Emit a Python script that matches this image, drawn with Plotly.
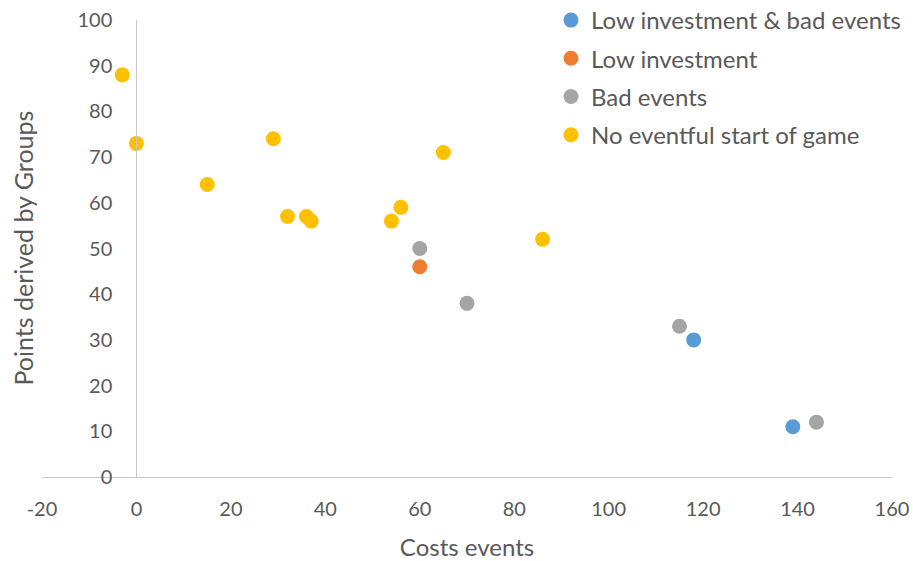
import plotly.graph_objects as go

# Groups of teams: costs of events vs. points earned
series_names = [
    "Low investment & bad events",
    "Low investment",
    "Bad events",
    "No eventful start of game",
]
series_colors = ["#5B9BD5", "#ED7D31", "#A5A5A5", "#FFC000"]

low_inv_bad_x = [118, 139]
low_inv_bad_y = [30, 11]

low_inv_x = [60]
low_inv_y = [46]

bad_events_x = [60, 70, 115, 144]
bad_events_y = [50, 38, 33, 12]

no_event_x = [-3, 0, 15, 29, 32, 36, 37, 54, 56, 65, 86]
no_event_y = [88, 73, 64, 74, 57, 57, 56, 56, 59, 71, 52]

x_ticks = [-20, 0, 20, 40, 60, 80, 100, 120, 140, 160]
x_tick_text = ["-20", "0", "20", "40", "60", "80", "100", "120", "140", "160"]
y_ticks = [0, 10, 20, 30, 40, 50, 60, 70, 80, 90, 100]

series_x = [low_inv_bad_x, low_inv_x, bad_events_x, no_event_x]
series_y = [low_inv_bad_y, low_inv_y, bad_events_y, no_event_y]

FONT = "Lato, Open Sans, sans-serif"
TEXT = "#595959"
AXIS = "#C8C8C8"

fig = go.Figure()
for i, (name, col, xs, ys) in enumerate(zip(series_names, series_colors, series_x, series_y)):
    fig.add_trace(go.Scatter(
        x=xs, y=ys, mode="markers", name=name,
        legendgroup=f"g{i}",
        marker=dict(size=15, color=col, line=dict(width=0)),
    ))

# plot area spans 42..892 px horizontally; the y axis sits at x = 0
left, right, top, bottom = 42, 892, 20, 477
y_axis_pos = (136.4 - left) / (right - left)

fig.update_layout(
    width=913, height=561,
    margin=dict(l=left, r=913 - right, t=top, b=561 - bottom, autoexpand=False),
    paper_bgcolor="white", plot_bgcolor="white",
    font=dict(family=FONT, color=TEXT, size=20),
    showlegend=True,
    legend=dict(
        x=(551 - left) / (right - left), y=(bottom + 2) / (bottom - top),
        xanchor="left", yanchor="top",
        bgcolor="rgba(0,0,0,0)", font=dict(size=24, color=TEXT),
        traceorder="grouped", tracegroupgap=4,
        itemwidth=30,
    ),
    xaxis=dict(
        range=[-20, 160], tickvals=x_ticks, ticktext=x_tick_text, showgrid=False,
        zeroline=False, showline=True, linecolor=AXIS, linewidth=1.3,
        ticks="", tickfont=dict(size=20, color=TEXT), ticklabelstandoff=14,
        title=dict(text="Costs events", font=dict(size=24, color=TEXT), standoff=30),
        anchor="y", fixedrange=True, automargin=False,
    ),
    yaxis=dict(
        range=[0, 100], tickvals=y_ticks, showgrid=False,
        zeroline=False, showline=True, linecolor=AXIS, linewidth=1.3,
        ticks="", tickfont=dict(size=20, color=TEXT),
        anchor="free", position=y_axis_pos, ticklabelstandoff=20,
        fixedrange=True, automargin=False,
    ),
    annotations=[dict(
        text="Points derived by Groups", xref="paper", yref="paper",
        x=(22 - left) / (right - left), y=0.5, textangle=-90,
        showarrow=False, font=dict(size=25, color=TEXT, family=FONT),
        xanchor="center", yanchor="middle",
    )],
)

fig.write_html("out.html")
